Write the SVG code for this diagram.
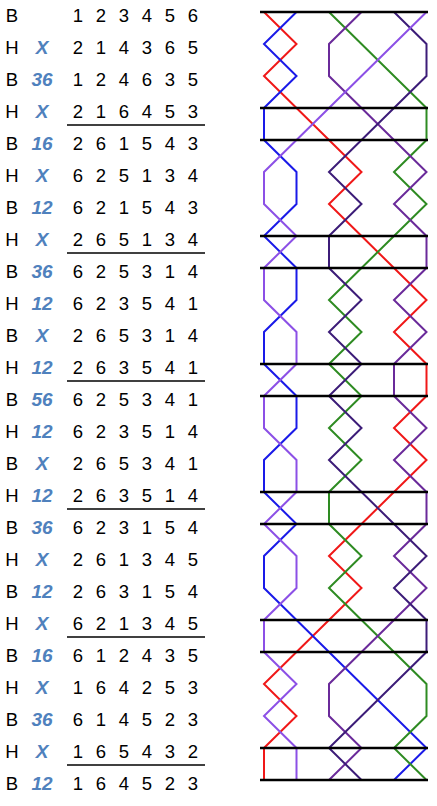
<svg xmlns="http://www.w3.org/2000/svg" width="437" height="806" viewBox="0 0 437 806">
<style>
.lbl{font-family:"Liberation Sans",Arial,sans-serif;font-size:18.5px;fill:#000;text-anchor:middle}
.pn{font-family:"Liberation Sans",Arial,sans-serif;font-size:19px;font-weight:bold;font-style:italic;fill:#4F81BD;text-anchor:middle}
.ul{stroke:#000;stroke-width:1.3}
.bell{fill:none;stroke-width:2;stroke-linejoin:miter}
.lead{stroke:#000;stroke-width:2.5}
</style>
<rect width="437" height="806" fill="#fff"/>
<g id="table">
<g id="labels">
<text class="lbl" x="12" y="21.7">B</text>
<text class="lbl" x="12" y="53.7">H</text>
<text class="lbl" x="12" y="85.7">B</text>
<text class="lbl" x="12" y="117.7">H</text>
<text class="lbl" x="12" y="149.7">B</text>
<text class="lbl" x="12" y="181.7">H</text>
<text class="lbl" x="12" y="213.7">B</text>
<text class="lbl" x="12" y="245.7">H</text>
<text class="lbl" x="12" y="277.7">B</text>
<text class="lbl" x="12" y="309.7">H</text>
<text class="lbl" x="12" y="341.7">B</text>
<text class="lbl" x="12" y="373.7">H</text>
<text class="lbl" x="12" y="405.7">B</text>
<text class="lbl" x="12" y="437.7">H</text>
<text class="lbl" x="12" y="469.7">B</text>
<text class="lbl" x="12" y="501.7">H</text>
<text class="lbl" x="12" y="533.7">B</text>
<text class="lbl" x="12" y="565.7">H</text>
<text class="lbl" x="12" y="597.7">B</text>
<text class="lbl" x="12" y="629.7">H</text>
<text class="lbl" x="12" y="661.7">B</text>
<text class="lbl" x="12" y="693.7">H</text>
<text class="lbl" x="12" y="725.7">B</text>
<text class="lbl" x="12" y="757.7">H</text>
<text class="lbl" x="12" y="789.7">B</text>
</g>
<g id="notation">
<text class="pn" x="42" y="53.7">X</text>
<text class="pn" x="42" y="85.7">36</text>
<text class="pn" x="42" y="117.7">X</text>
<text class="pn" x="42" y="149.7">16</text>
<text class="pn" x="42" y="181.7">X</text>
<text class="pn" x="42" y="213.7">12</text>
<text class="pn" x="42" y="245.7">X</text>
<text class="pn" x="42" y="277.7">36</text>
<text class="pn" x="42" y="309.7">12</text>
<text class="pn" x="42" y="341.7">X</text>
<text class="pn" x="42" y="373.7">12</text>
<text class="pn" x="42" y="405.7">56</text>
<text class="pn" x="42" y="437.7">12</text>
<text class="pn" x="42" y="469.7">X</text>
<text class="pn" x="42" y="501.7">12</text>
<text class="pn" x="42" y="533.7">36</text>
<text class="pn" x="42" y="565.7">X</text>
<text class="pn" x="42" y="597.7">12</text>
<text class="pn" x="42" y="629.7">X</text>
<text class="pn" x="42" y="661.7">16</text>
<text class="pn" x="42" y="693.7">X</text>
<text class="pn" x="42" y="725.7">36</text>
<text class="pn" x="42" y="757.7">X</text>
<text class="pn" x="42" y="789.7">12</text>
</g>
<g id="rows" class="lbl">
<text class="lbl" y="21.7"><tspan x="78">1</tspan><tspan x="101">2</tspan><tspan x="124">3</tspan><tspan x="147">4</tspan><tspan x="170">5</tspan><tspan x="193">6</tspan></text>
<text class="lbl" y="53.7"><tspan x="78">2</tspan><tspan x="101">1</tspan><tspan x="124">4</tspan><tspan x="147">3</tspan><tspan x="170">6</tspan><tspan x="193">5</tspan></text>
<text class="lbl" y="85.7"><tspan x="78">1</tspan><tspan x="101">2</tspan><tspan x="124">4</tspan><tspan x="147">6</tspan><tspan x="170">3</tspan><tspan x="193">5</tspan></text>
<text class="lbl" y="117.7"><tspan x="78">2</tspan><tspan x="101">1</tspan><tspan x="124">6</tspan><tspan x="147">4</tspan><tspan x="170">5</tspan><tspan x="193">3</tspan></text>
<text class="lbl" y="149.7"><tspan x="78">2</tspan><tspan x="101">6</tspan><tspan x="124">1</tspan><tspan x="147">5</tspan><tspan x="170">4</tspan><tspan x="193">3</tspan></text>
<text class="lbl" y="181.7"><tspan x="78">6</tspan><tspan x="101">2</tspan><tspan x="124">5</tspan><tspan x="147">1</tspan><tspan x="170">3</tspan><tspan x="193">4</tspan></text>
<text class="lbl" y="213.7"><tspan x="78">6</tspan><tspan x="101">2</tspan><tspan x="124">1</tspan><tspan x="147">5</tspan><tspan x="170">4</tspan><tspan x="193">3</tspan></text>
<text class="lbl" y="245.7"><tspan x="78">2</tspan><tspan x="101">6</tspan><tspan x="124">5</tspan><tspan x="147">1</tspan><tspan x="170">3</tspan><tspan x="193">4</tspan></text>
<text class="lbl" y="277.7"><tspan x="78">6</tspan><tspan x="101">2</tspan><tspan x="124">5</tspan><tspan x="147">3</tspan><tspan x="170">1</tspan><tspan x="193">4</tspan></text>
<text class="lbl" y="309.7"><tspan x="78">6</tspan><tspan x="101">2</tspan><tspan x="124">3</tspan><tspan x="147">5</tspan><tspan x="170">4</tspan><tspan x="193">1</tspan></text>
<text class="lbl" y="341.7"><tspan x="78">2</tspan><tspan x="101">6</tspan><tspan x="124">5</tspan><tspan x="147">3</tspan><tspan x="170">1</tspan><tspan x="193">4</tspan></text>
<text class="lbl" y="373.7"><tspan x="78">2</tspan><tspan x="101">6</tspan><tspan x="124">3</tspan><tspan x="147">5</tspan><tspan x="170">4</tspan><tspan x="193">1</tspan></text>
<text class="lbl" y="405.7"><tspan x="78">6</tspan><tspan x="101">2</tspan><tspan x="124">5</tspan><tspan x="147">3</tspan><tspan x="170">4</tspan><tspan x="193">1</tspan></text>
<text class="lbl" y="437.7"><tspan x="78">6</tspan><tspan x="101">2</tspan><tspan x="124">3</tspan><tspan x="147">5</tspan><tspan x="170">1</tspan><tspan x="193">4</tspan></text>
<text class="lbl" y="469.7"><tspan x="78">2</tspan><tspan x="101">6</tspan><tspan x="124">5</tspan><tspan x="147">3</tspan><tspan x="170">4</tspan><tspan x="193">1</tspan></text>
<text class="lbl" y="501.7"><tspan x="78">2</tspan><tspan x="101">6</tspan><tspan x="124">3</tspan><tspan x="147">5</tspan><tspan x="170">1</tspan><tspan x="193">4</tspan></text>
<text class="lbl" y="533.7"><tspan x="78">6</tspan><tspan x="101">2</tspan><tspan x="124">3</tspan><tspan x="147">1</tspan><tspan x="170">5</tspan><tspan x="193">4</tspan></text>
<text class="lbl" y="565.7"><tspan x="78">2</tspan><tspan x="101">6</tspan><tspan x="124">1</tspan><tspan x="147">3</tspan><tspan x="170">4</tspan><tspan x="193">5</tspan></text>
<text class="lbl" y="597.7"><tspan x="78">2</tspan><tspan x="101">6</tspan><tspan x="124">3</tspan><tspan x="147">1</tspan><tspan x="170">5</tspan><tspan x="193">4</tspan></text>
<text class="lbl" y="629.7"><tspan x="78">6</tspan><tspan x="101">2</tspan><tspan x="124">1</tspan><tspan x="147">3</tspan><tspan x="170">4</tspan><tspan x="193">5</tspan></text>
<text class="lbl" y="661.7"><tspan x="78">6</tspan><tspan x="101">1</tspan><tspan x="124">2</tspan><tspan x="147">4</tspan><tspan x="170">3</tspan><tspan x="193">5</tspan></text>
<text class="lbl" y="693.7"><tspan x="78">1</tspan><tspan x="101">6</tspan><tspan x="124">4</tspan><tspan x="147">2</tspan><tspan x="170">5</tspan><tspan x="193">3</tspan></text>
<text class="lbl" y="725.7"><tspan x="78">6</tspan><tspan x="101">1</tspan><tspan x="124">4</tspan><tspan x="147">5</tspan><tspan x="170">2</tspan><tspan x="193">3</tspan></text>
<text class="lbl" y="757.7"><tspan x="78">1</tspan><tspan x="101">6</tspan><tspan x="124">5</tspan><tspan x="147">4</tspan><tspan x="170">3</tspan><tspan x="193">2</tspan></text>
<text class="lbl" y="789.7"><tspan x="78">1</tspan><tspan x="101">6</tspan><tspan x="124">4</tspan><tspan x="147">5</tspan><tspan x="170">2</tspan><tspan x="193">3</tspan></text>
</g>
<g id="underlines" class="ul">
<line x1="67" y1="125" x2="205" y2="125"/>
<line x1="67" y1="253" x2="205" y2="253"/>
<line x1="67" y1="381" x2="205" y2="381"/>
<line x1="67" y1="509" x2="205" y2="509"/>
<line x1="67" y1="637" x2="205" y2="637"/>
<line x1="67" y1="765" x2="205" y2="765"/>
</g>
</g>
<g id="connectors">
<polyline id="bell1" class="bell" stroke="#F01818" points="264,12 296.5,44 264,76 296.5,108 329,140 361.5,172 329,204 361.5,236 394,268 426.5,300 394,332 426.5,364 426.5,396 394,428 426.5,460 394,492 361.5,524 329,556 361.5,588 329,620 296.5,652 264,684 296.5,716 264,748 264,780"/>
<polyline id="bell2" class="bell" stroke="#1A1AE8" points="296.5,12 264,44 296.5,76 264,108 264,140 296.5,172 296.5,204 264,236 296.5,268 296.5,300 264,332 264,364 296.5,396 296.5,428 264,460 264,492 296.5,524 264,556 264,588 296.5,620 329,652 361.5,684 394,716 426.5,748 394,780"/>
<polyline id="bell3" class="bell" stroke="#2E8B22" points="329,12 361.5,44 394,76 426.5,108 426.5,140 394,172 426.5,204 394,236 361.5,268 329,300 361.5,332 329,364 361.5,396 329,428 361.5,460 329,492 329,524 361.5,556 329,588 361.5,620 394,652 426.5,684 426.5,716 394,748 426.5,780"/>
<polyline id="bell4" class="bell" stroke="#6A2A9A" points="361.5,12 329,44 329,76 361.5,108 394,140 426.5,172 394,204 426.5,236 426.5,268 394,300 426.5,332 394,364 394,396 426.5,428 394,460 426.5,492 426.5,524 394,556 426.5,588 394,620 361.5,652 329,684 329,716 361.5,748 329,780"/>
<polyline id="bell5" class="bell" stroke="#3C1C78" points="394,12 426.5,44 426.5,76 394,108 361.5,140 329,172 361.5,204 329,236 329,268 361.5,300 329,332 361.5,364 329,396 361.5,428 329,460 361.5,492 394,524 426.5,556 394,588 426.5,620 426.5,652 394,684 361.5,716 329,748 361.5,780"/>
<polyline id="bell6" class="bell" stroke="#8C50E6" points="426.5,12 394,44 361.5,76 329,108 296.5,140 264,172 264,204 296.5,236 264,268 264,300 296.5,332 296.5,364 264,396 264,428 296.5,460 296.5,492 264,524 296.5,556 296.5,588 264,620 264,652 296.5,684 264,716 296.5,748 296.5,780"/>
<g id="leads" class="lead">
<line x1="260" y1="12" x2="428" y2="12"/>
<line x1="260" y1="108" x2="428" y2="108"/>
<line x1="260" y1="140" x2="428" y2="140"/>
<line x1="260" y1="236" x2="428" y2="236"/>
<line x1="260" y1="268" x2="428" y2="268"/>
<line x1="260" y1="364" x2="428" y2="364"/>
<line x1="260" y1="396" x2="428" y2="396"/>
<line x1="260" y1="492" x2="428" y2="492"/>
<line x1="260" y1="524" x2="428" y2="524"/>
<line x1="260" y1="620" x2="428" y2="620"/>
<line x1="260" y1="652" x2="428" y2="652"/>
<line x1="260" y1="748" x2="428" y2="748"/>
<line x1="260" y1="780" x2="428" y2="780"/>
</g>
</g>
</svg>
